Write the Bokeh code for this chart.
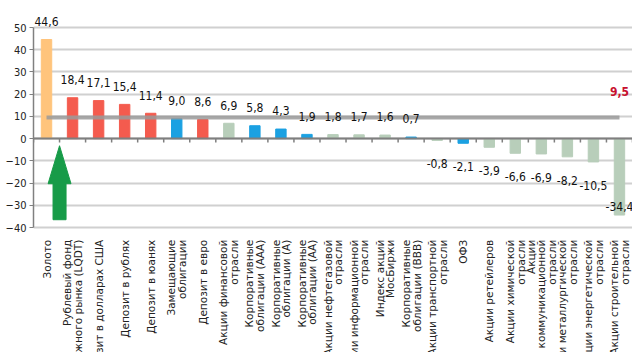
import math
from bokeh.plotting import figure
from bokeh.models import ColumnDataSource, Range1d, FixedTicker, Span
from bokeh.core.properties import value
from bokeh.embed import file_html
from bokeh.resources import INLINE

# ---- data ----
categories = [
    "Золото",
    "Рублевый фонд\nденежного рынка (LQDT)",
    "Депозит в долларах США",
    "Депозит в рублях",
    "Депозит в юанях",
    "Замещающие\nоблигации",
    "Депозит в евро",
    "Акции финансовой\nотрасли",
    "Корпоративные\nоблигации (ААА)",
    "Корпоративные\nоблигации (А)",
    "Корпоративные\nоблигации (АА)",
    "Акции нефтегазовой\nотрасли",
    "Акции информационной\nотрасли",
    "Индекс акций\nМосБиржи",
    "Корпоративные\nоблигации (ВВВ)",
    "Акции транспортной\nотрасли",
    "ОФЗ",
    "Акции ретейлеров",
    "Акции химической\nотрасли",
    "Акции\nкоммуникационной\nотрасли",
    "Акции металлургической\nотрасли",
    "Акции энергетической\nотрасли",
    "Акции строительной\nотрасли",
]
returns = [44.6, 18.4, 17.1, 15.4, 11.4, 9.0, 8.6, 6.9, 5.8, 4.3, 1.9, 1.8, 1.7,
           1.6, 0.7, -0.8, -2.1, -3.9, -6.6, -6.9, -8.2, -10.5, -34.4]
groups = ["gold", "money", "money", "money", "money", "bond", "money", "stock",
          "bond", "bond", "bond", "stock", "stock", "stock", "bond", "stock",
          "bond", "stock", "stock", "stock", "stock", "stock", "stock"]
inflation = 9.5
y_ticks = [-40, -30, -20, -10, 0, 10, 20, 30, 40, 50]

# ---- styles ----
palette = {"gold": "#FFC47C", "money": "#F45B4E", "bond": "#1BA1E2", "stock": "#B8CEBA"}
NARROW = "DejaVu Sans Condensed"

n = len(categories)
xs = list(range(n))
colors = [palette[g] for g in groups]
labels = [f"{v:.1f}".replace(".", ",") for v in returns]
label_y = [v + 8.2 if v >= 0 else max(v - 10.5, -30.6) for v in returns]

src = ColumnDataSource(dict(x=xs, v=returns, color=colors, lab=labels, ly=label_y,
                            cat=categories))

p = figure(width=632, height=352, x_range=Range1d(-0.5, n - 0.5),
           y_range=Range1d(-96.25, 62.15), x_axis_location=None,
           output_backend="svg", toolbar_location=None,
           min_border_left=33, min_border_right=0, min_border_top=0, min_border_bottom=0)
p.outline_line_color = None
p.background_fill_color = "white"
p.border_fill_color = "white"

# axis
p.yaxis.ticker = FixedTicker(ticks=y_ticks)
p.yaxis.bounds = (min(y_ticks), max(y_ticks))
p.yaxis.axis_line_color = "#808080"
p.yaxis.axis_line_width = 1.5
p.yaxis.major_tick_line_color = "#808080"
p.yaxis.major_tick_out = 4
p.yaxis.major_tick_in = 0
p.yaxis.minor_tick_line_color = None
p.yaxis.major_label_text_font = NARROW
p.yaxis.major_label_text_font_size = "11px"
p.yaxis.major_label_text_color = "#222222"
p.yaxis.major_label_standoff = 3

p.xgrid.visible = False
p.ygrid.ticker = FixedTicker(ticks=y_ticks)
p.ygrid.grid_line_color = "#D0D0D0"
p.ygrid.grid_line_width = 2

# bars
p.vbar(x="x", top="v", bottom=0, width=0.4, color="color", source=src)

# zero line with category ticks
p.add_layout(Span(location=0, dimension="width", line_color="#7F7F7F", line_width=2))
bounds = [i - 0.5 for i in range(n + 1)]
p.segment(x0=bounds, y0=[0] * len(bounds), x1=bounds, y1=[-1.8] * len(bounds),
          line_color="#7F7F7F", line_width=1.5)

# inflation line
p.line(x=[xs[0], xs[-1]], y=[inflation, inflation], line_color="#9A9A9A",
       line_width=4, line_alpha=0.85)
p.text(x=[xs[-1]], y=[inflation + 11.6], text=[f"{inflation:.1f}".replace(".", ",")],
       text_font=value(NARROW), text_font_size="12px", text_font_style="bold",
       text_color="#C8102E", text_align="center", text_baseline="middle")

# value labels
p.text(x="x", y="ly", text="lab", source=src, text_font=value(NARROW),
       text_font_size="12px", text_color="#111111", text_align="center",
       text_baseline="middle")

# category labels (rotated)
p.text(x="x", y=-45.5, text="cat", source=src, angle=math.pi / 2,
       text_font=value("DejaVu Sans"), text_font_size="10.5px", text_color="#222222",
       text_align="right", text_baseline="middle", text_line_height=0.9)

# green arrow
cx, tip, base, bottom, hw, sw = 0.5, -3.2, -20.3, -36.5, 0.44, 0.25
p.patch(x=[cx, cx + hw, cx + sw, cx + sw, cx - sw, cx - sw, cx - hw],
        y=[tip, base, base, bottom, bottom, base, base], color="#179B48")

open("out.html", "w").write(file_html(p, INLINE))
